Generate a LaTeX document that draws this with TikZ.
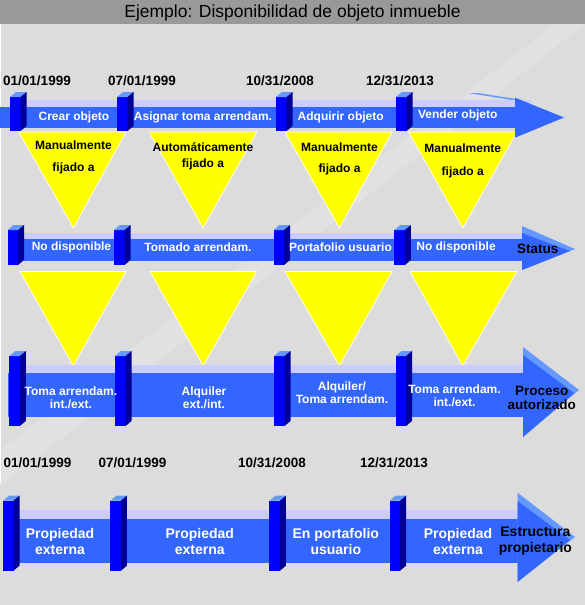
\documentclass[tikz,border=0pt]{standalone}
\usepackage{fontspec}
\setmainfont{Liberation Sans}
\usepackage{tikz}
\usetikzlibrary{positioning}
\definecolor{canvasgrey}{HTML}{DCDCDC}
\definecolor{bandgrey}{HTML}{E1E1E1}
\definecolor{titlegrey}{HTML}{999999}
\definecolor{barblue}{HTML}{3366FF}
\definecolor{glowlav}{HTML}{CCCCFF}
\definecolor{postfront}{HTML}{0000FF}
\definecolor{posttop}{HTML}{6699FF}
\definecolor{postside}{HTML}{000099}
\definecolor{flagyellow}{HTML}{FFFF00}

% 3D post: x, top y, bottom y
\newcommand{\milepost}[3]{%
  \fill[postfront] (#1,#2) rectangle (#1+10.5,#3);
  \fill[posttop] (#1,#2) -- (#1+6,#2-5) -- (#1+16.5,#2-5) -- (#1+10.5,#2) -- cycle;
  \fill[postside] (#1+10.5,#2) -- (#1+16.5,#2-5) -- (#1+16.5,#3-5) -- (#1+10.5,#3) -- cycle;
}

\begin{document}
\begin{tikzpicture}[
  x=1pt, y=-1pt,
  flag/.style={fill=flagyellow, draw=white, line width=0.7pt, line join=miter},
  phase/.style={text=white, font=\fontsize{12}{13}\selectfont\bfseries, align=center, inner sep=0pt},
  flagtxt/.style={text=black, align=center, inner sep=0pt},
  endlbl/.style={text=black, font=\fontsize{13.5}{14}\selectfont\bfseries, align=center, inner sep=0pt},
  datelbl/.style={text=black, font=\fontsize{13.5}{14}\selectfont\bfseries, inner sep=0pt},
]
\useasboundingbox (0,0) rectangle (585,605);
\fill[canvasgrey] (0,0) rectangle (585,605);
\fill[bandgrey] (555,24) -- (585,24) -- (0,487) -- (0,450) -- cycle;
\fill[white] (0,24) rectangle (1.3,483);
\fill[titlegrey] (0,0) rectangle (585,24);
\node[font=\fontsize{17.5}{18}\selectfont, inner sep=0pt] (title) at (292.5,12.5)
  {Ejemplo: Disponibilidad de objeto inmueble};

% dates
\foreach \x/\d [count=\i] in {37/01\slash01\slash1999, 142/07\slash01\slash1999,
    280/10\slash31\slash2008, 400/12\slash31\slash2013}
  \node[datelbl] (datetop\i) at (\x,81) {\d};
\foreach \x/\d [count=\i] in {37.5/01\slash01\slash1999, 132.5/07\slash01\slash1999,
    272/10\slash31\slash2008, 394/12\slash31\slash2013}
  \node[datelbl] (datebot\i) at (\x,462.7) {\d};

% triangles
\foreach \l/\r/\a in {18.7/126/73.5, 149/257/203, 285/392/339.5, 408.6/517/462.7}
  \draw[flag] (\l,132) -- (\r,132) -- (\a,228) -- cycle;
\foreach \l/\r/\a in {20/126/73.3, 150/256.7/203.3, 285/392/339.5, 410/517/462.7}
  \draw[flag] (\l,271.5) -- (\r,271.5) -- (\a,366) -- cycle;

% row 1
\fill[posttop] (468,93) -- (478,93) -- (532,101.5) -- (522,101.5) -- cycle;
\fill[glowlav] (18,100) rectangle (531,107);
\fill[barblue] (0,107) rectangle (515,128);
\fill[barblue] (515,97.7) -- (564,117.5) -- (515,137.7) -- cycle;
\foreach \x in {10,117,276,396} { \milepost{\x}{97}{131} }

% row 2
\fill[glowlav] (14,233) rectangle (528,239);
\fill[barblue] (7.5,239) rectangle (522,261);
\fill[posttop] (522,226) -- (575,249) -- (522,270) -- cycle;
\fill[barblue] (522,233) -- (570,251) -- (522,270) -- cycle;
\foreach \x in {7.5,114,273.5,394.4} { \milepost{\x}{230}{265} }

% row 3
\fill[glowlav] (15,365) rectangle (523,373);
\fill[barblue] (8,373) rectangle (523,417);
\fill[posttop] (523,347) -- (579,390) -- (523,437) -- cycle;
\fill[barblue] (523,355) -- (574,393) -- (523,437) -- cycle;
\foreach \x in {9.3,115,274,395.5} { \milepost{\x}{356}{426} }

% row 4
\fill[glowlav] (10,510) rectangle (518,519);
\fill[barblue] (3,519) rectangle (518,563);
\fill[posttop] (517.5,492.7) -- (575,537) -- (517.5,582) -- cycle;
\fill[barblue] (517.5,501) -- (570,540) -- (517.5,582) -- cycle;
\foreach \x in {3,110.4,269.4,389.5} { \milepost{\x}{500.7}{570.7} }

% texts
\node[phase] (crear) at (74,117.5) {Crear objeto};
\node[phase] (asignar) at (203,117.5) {Asignar toma arrendam.};
\node[phase] (adquirir) at (340.7,117.5) {Adquirir objeto};
\node[phase] (vender) at (457.8,115.7) {Vender objeto};

\node[flagtxt, font=\fontsize{12}{22}\selectfont\bfseries] (fix1) at (73.5,157) {Manualmente\\fijado a};
\node[flagtxt, font=\fontsize{12}{16}\selectfont\bfseries] (fix2) at (203,156) {Automáticamente\\fijado a};
\node[flagtxt, font=\fontsize{12}{21}\selectfont\bfseries] (fix3) at (339.5,158.5) {Manualmente\\fijado a};
\node[flagtxt, font=\fontsize{12}{23}\selectfont\bfseries] (fix4) at (462.7,160.5) {Manualmente\\fijado a};

\node[phase] (nodisp1) at (71.5,247.7) {No disponible};
\node[phase] (tomado) at (198,247.7) {Tomado arrendam.};
\node[phase] (portaf) at (340.5,247.7) {Portafolio usuario};
\node[phase] (nodisp2) at (456,247) {No disponible};
\node[endlbl] (status) at (537.7,249) {Status};

\node[phase] (toma1) at (70.9,397.5) {Toma arrendam.\\int./ext.};
\node[phase] (alq1) at (204,397.5) {Alquiler\\ext./int.};
\node[phase] (alq2) at (342,393) {Alquiler/\\Toma arrendam.};
\node[phase] (toma2) at (454.5,395.5) {Toma arrendam.\\int./ext.};
\node[endlbl] (proceso) at (541.8,397.5) {Proceso\\autorizado};

\node[phase, font=\fontsize{14}{16}\selectfont\bfseries] (prop1) at (60,541.5) {Propiedad\\externa};
\node[phase, font=\fontsize{14}{16}\selectfont\bfseries] (prop2) at (199.8,541.5) {Propiedad\\externa};
\node[phase, font=\fontsize{14}{16}\selectfont\bfseries] (enport) at (335.8,541.5) {En portafolio\\usuario};
\node[phase, font=\fontsize{14}{16}\selectfont\bfseries] (prop3) at (458,541.5) {Propiedad\\externa};
\node[endlbl, font=\fontsize{14}{16}\selectfont\bfseries] (estruct) at (535.4,541.5) {Estructura\\propietario};
\end{tikzpicture}
\end{document}
